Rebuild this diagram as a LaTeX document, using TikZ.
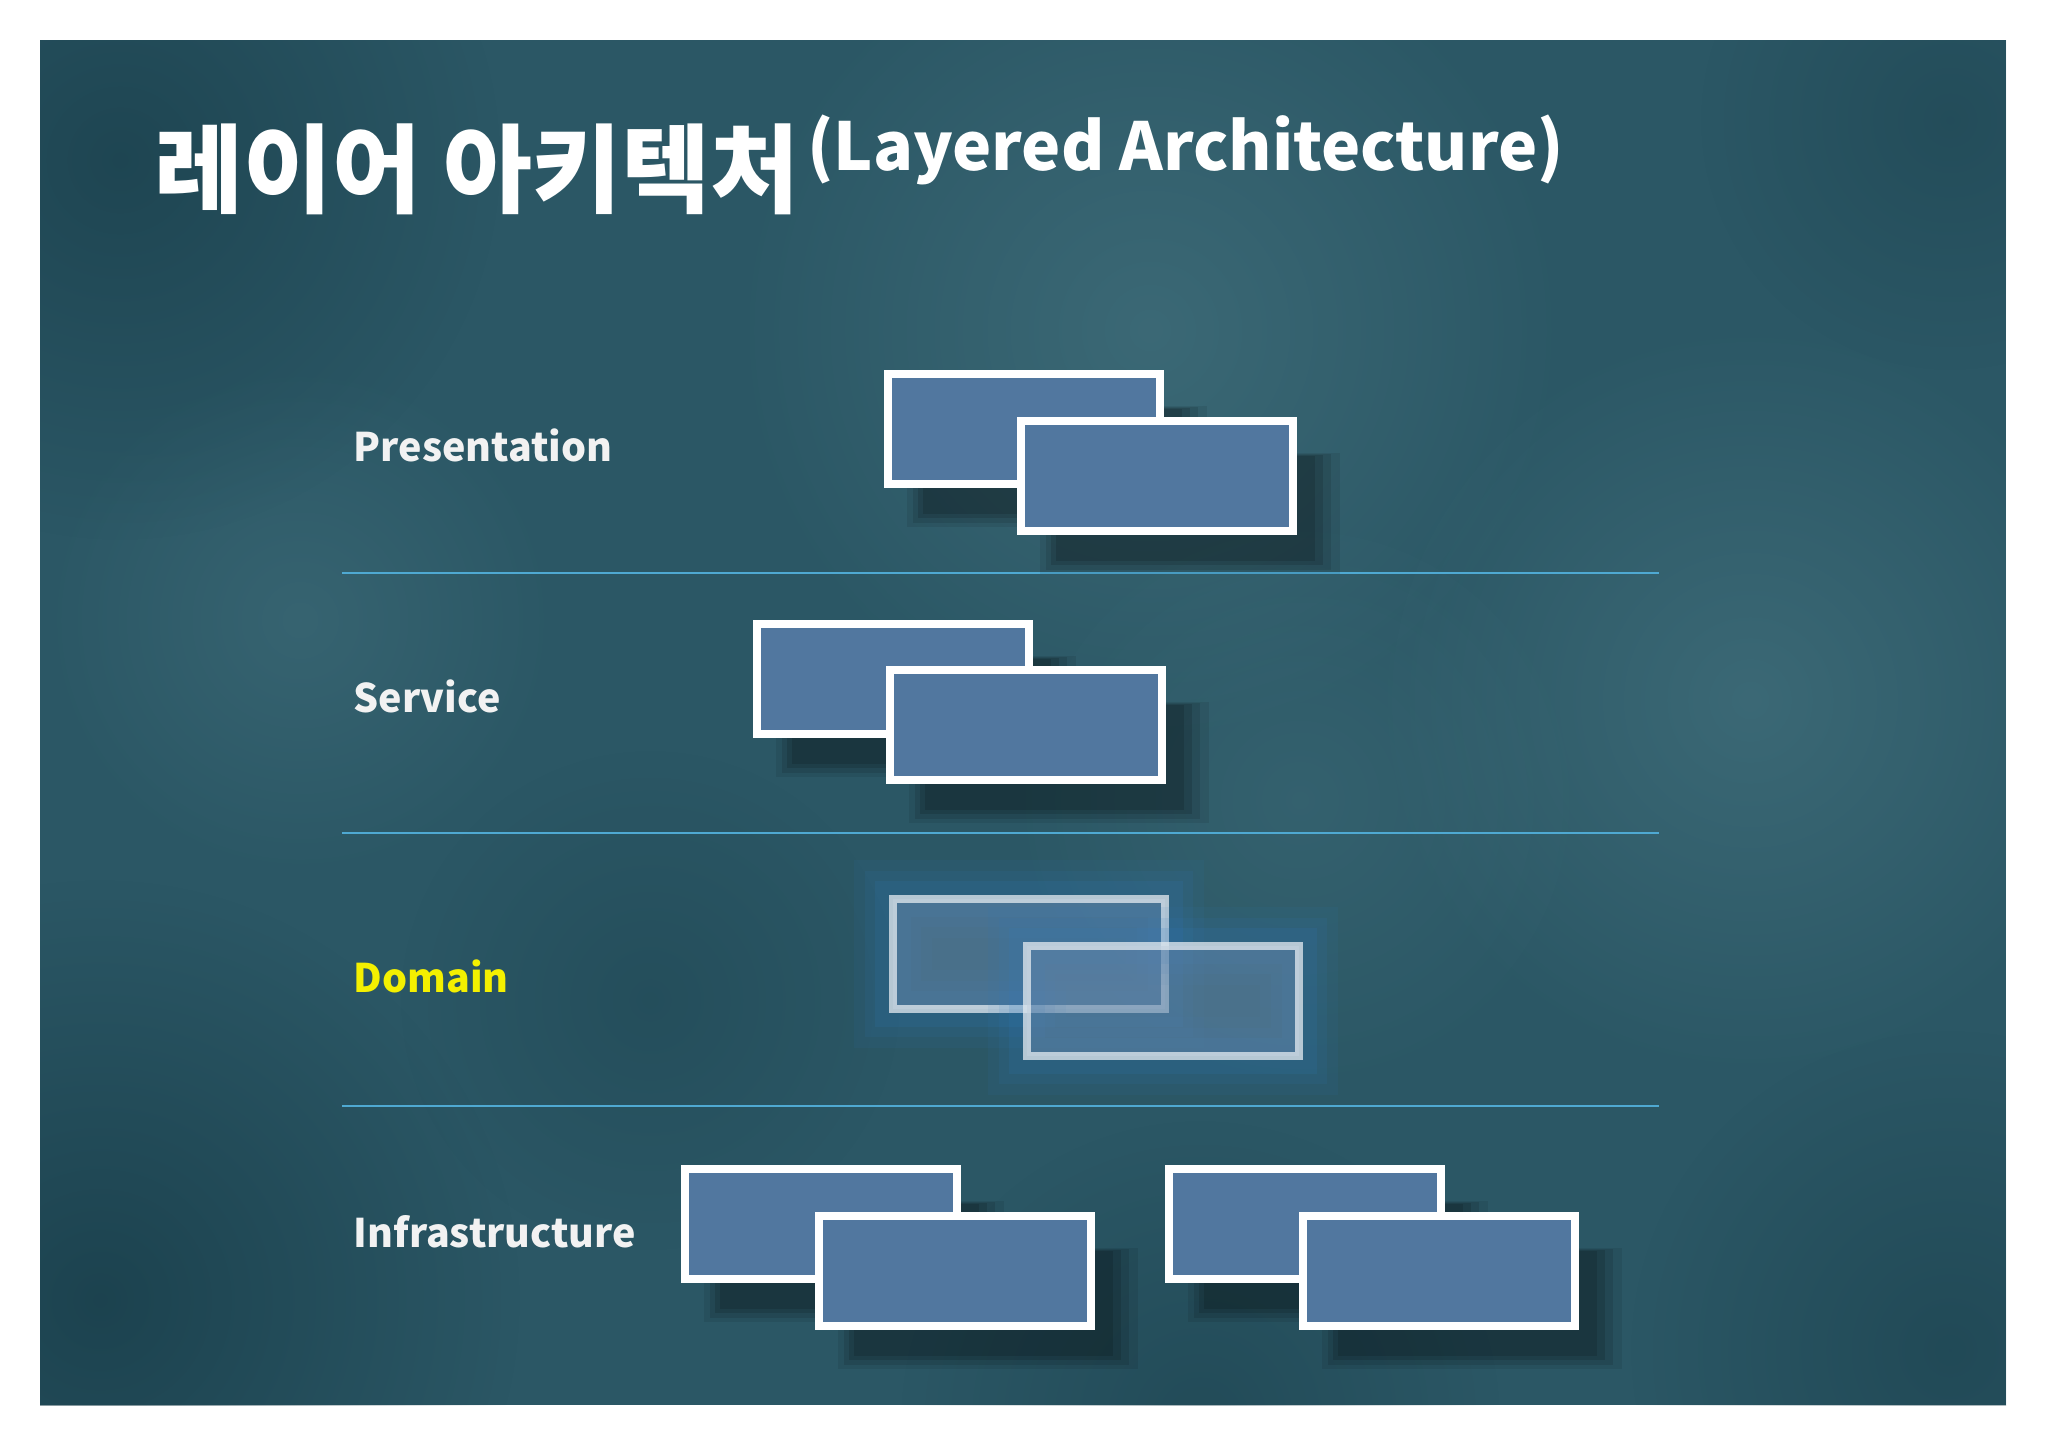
\documentclass[tikz,border=0pt]{standalone}
\usepackage{fontspec}
\setmainfont{Noto Sans CJK KR}
\usetikzlibrary{calc,shadows,fadings}

\definecolor{chalkbg}{HTML}{2B5765}
\definecolor{chalkdark}{HTML}{163A46}
\definecolor{chalklight}{HTML}{5A8A95}
\definecolor{boxblue}{HTML}{51779F}
\definecolor{linecyan}{HTML}{4FA9D2}
\definecolor{domainyellow}{HTML}{F4F000}
\definecolor{glowblue}{HTML}{2F7BC0}
\definecolor{labelwhite}{HTML}{F2F2F2}

\tikzfading[name=blotch fade, inner color=transparent!0, outer color=transparent!100]

\tikzset{
  softshadow/.style={
    drop shadow={shadow xshift=0.30cm, shadow yshift=-0.34cm, shadow scale=1.10, opacity=0.08, fill=black},
    drop shadow={shadow xshift=0.30cm, shadow yshift=-0.34cm, shadow scale=1.05, opacity=0.10, fill=black},
    drop shadow={shadow xshift=0.30cm, shadow yshift=-0.34cm, opacity=0.12, fill=black},
    drop shadow={shadow xshift=0.30cm, shadow yshift=-0.34cm, shadow scale=0.95, opacity=0.12, fill=black}},
  layerbox/.style={softshadow, draw=white, line width=2.3pt, fill=boxblue,
    minimum width=2.72cm, minimum height=1.10cm, inner sep=0pt},
  domainbox/.style={draw=white!85!boxblue, draw opacity=0.75, line width=2.3pt,
    fill=boxblue!90!white, fill opacity=0.55,
    minimum width=2.72cm, minimum height=1.10cm, inner sep=0pt,
    preaction={draw=glowblue, draw opacity=0.08, line width=22pt},
    preaction={draw=glowblue, draw opacity=0.10, line width=16pt},
    preaction={draw=glowblue, draw opacity=0.14, line width=10pt}},
  layerlabel/.style={anchor=west, inner sep=0pt, text=labelwhite,
    font=\fontsize{11.2}{14}\selectfont\bfseries},
  sepline/.style={draw=linecyan, line width=0.6pt}
}

\begin{document}
\begin{tikzpicture}[x=0.01cm, y=-0.01cm]
    \useasboundingbox (0,0) rectangle (2048,1447);
    \fill[white] (0,0) rectangle (2048,1447);

    % chalkboard panel
    \fill[chalkbg] (40,40) rectangle (2006,1405);
    \begin{scope}
        \clip (40,40) rectangle (2006,1405);
        \foreach \bx/\by/\br/\bc/\bo in {
            1150/330/420/chalklight/0.35, 1750/700/380/chalklight/0.35,
            300/620/260/chalklight/0.25, 1300/800/300/chalklight/0.2,
            100/1300/420/chalkdark/0.7, 120/160/380/chalkdark/0.6,
            1950/1350/320/chalkdark/0.45, 1200/1420/300/chalkdark/0.4,
            1950/120/250/chalkdark/0.35, 650/1000/250/chalkdark/0.3}
            \fill[\bc, opacity=\bo, path fading=blotch fade] (\bx,\by) circle (\br);
    \end{scope}

    % title
    \node[anchor=base west, inner sep=0pt, text=white,
          font=\fontsize{27.5}{32}\selectfont\bfseries] (title) at (154,205) {레이어 아키텍처};
    \node[anchor=base west, inner sep=0pt, text=white,
          font=\fontsize{18.8}{22}\selectfont\bfseries] (subtitle)
          at ($(title.base east)+(6,-35)$) {(Layered Architecture)};

    % layer separators
    \foreach \sy in {573,833,1106}
        \draw[sepline] (342,\sy) -- (1659,\sy);

    % layer names
    \node[layerlabel] (presLabel) at (353,445) {Presentation};
    \node[layerlabel] (servLabel) at (353,696) {Service};
    \node[layerlabel, text=domainyellow] (domLabel) at (353,976) {Domain};
    \node[layerlabel] (infraLabel) at (353,1232) {Infrastructure};

    % presentation
    \node[layerbox] (pres1) at (1024,429) {};
    \node[layerbox] (pres2) at ($(pres1)+(133,47)$) {};

    % service
    \node[layerbox] (serv1) at (893,679) {};
    \node[layerbox] (serv2) at ($(serv1)+(133,46)$) {};

    % domain (highlighted)
    \node[domainbox] (dom1) at (1029,954) {};
    \node[domainbox] (dom2) at ($(dom1)+(134,47)$) {};

    % infrastructure
    \node[layerbox] (infraA1) at (821,1224) {};
    \node[layerbox] (infraA2) at ($(infraA1)+(134,47)$) {};
    \node[layerbox] (infraB1) at (1305,1224) {};
    \node[layerbox] (infraB2) at ($(infraB1)+(134,47)$) {};
\end{tikzpicture}
\end{document}
